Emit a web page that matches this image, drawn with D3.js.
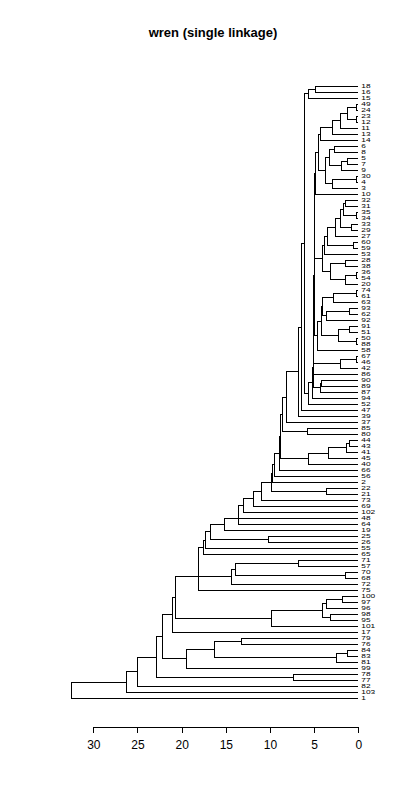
<!doctype html>
<html>
<head>
<meta charset="utf-8">
<script src="https://d3js.org/d3.v7.min.js"></script>
<style>
  body { margin: 0; background: #fff; }
  svg { display: block; }
</style>
</head>
<body>
<script>

// leaf labels, top to bottom, in the order the dendrogram shows them
var leafLabels = ["18","16","15","49","24","23","12","11","13","14",
    "6","8","5","7","9","30","4","3","10","32",
    "31","35","34","33","29","27","60","59","53","28",
    "38","36","54","20","74","61","63","93","62","92",
    "91","51","50","88","58","67","46","42","86","90",
    "89","87","94","52","47","39","37","85","80","44",
    "43","41","45","40","66","56","2","22","21","73",
    "69","102","48","64","19","25","26","55","65","71",
    "57","70","68","72","75","100","97","96","98","95",
    "101","17","79","76","84","83","81","99","78","77",
    "82","103","1"];

// merge height between each pair of neighbouring leaves (height of their lowest common node)
var gapHeights = [4.9, 5.6, 6.1, 0.15, 1.2, 0.15, 2.0, 2.9, 4.3, 4.5,
    2.7, 3.3, 1.2, 1.9, 3.75, 0.15, 2.9, 4.9, 4.95, 1.4,
    1.7, 0.15, 2.0, 0.8, 2.6, 3.45, 0.6, 3.8, 4.0, 1.4,
    3.15, 0.25, 1.45, 5.0, 0.15, 2.8, 4.0, 1.0, 3.65, 4.2,
    1.0, 2.2, 0.15, 4.6, 5.02, 0.15, 2.0, 5.05, 5.1, 4.2,
    4.3, 5.15, 5.6, 6.46, 6.73, 8.08, 8.55, 5.7, 8.76, 1.0,
    1.3, 3.4, 5.6, 8.95, 9.5, 9.66, 9.77, 3.65, 10.97, 11.9,
    13.05, 13.55, 13.6, 15.2, 16.7, 10.2, 17.3, 17.55, 18.05, 6.8,
    13.9, 1.4, 14.4, 18.1, 20.7, 1.8, 3.6, 4.0, 3.1, 9.8,
    21.0, 22.2, 13.2, 16.3, 1.2, 2.5, 19.4, 22.9, 7.3, 25.0,
    26.2, 32.5];

var axisTicks = [0, 5, 10, 15, 20, 25, 30];

var W = 400, H = 800;

var svg = d3.select("body")
    .append("svg")
    .attr("width", W)
    .attr("height", H);

svg.append("rect").attr("width", W).attr("height", H).attr("fill", "#fff");

// scales: height runs right to left, leaves top to bottom
var x = d3.scaleLinear()
    .domain([0, 30])
    .range([358.3, 93.3]);

var y = d3.scalePoint()
    .domain(d3.range(leafLabels.length))
    .range([86.5, 698.3]);

// rebuild the tree: split every range of leaves at its largest gap
function build(a, b) {
    if (a === b) return {name: leafLabels[a], idx: a, h: 0};
    var k = a;
    for (var i = a; i < b; i++) {
        if (gapHeights[i] > gapHeights[k]) k = i;
    }
    return {h: gapHeights[k], children: [build(a, k), build(k + 1, b)]};
}

var root = d3.hierarchy(build(0, leafLabels.length - 1));

// node position: leaf on its row, inner node halfway between its two children
root.eachAfter(function(n) {
    n.px = x(n.data.h);
    n.py = n.children ? (n.children[0].py + n.children[n.children.length - 1].py) / 2 : y(n.data.idx);
});

// title
svg.append("text")
    .attr("x", 213)
    .attr("y", 37)
    .attr("text-anchor", "middle")
    .attr("font-family", "Liberation Sans, Arial, sans-serif")
    .attr("font-weight", "bold")
    .attr("font-size", "13px")
    .text("wren (single linkage)");

// branches
var links = svg.append("g")
    .attr("fill", "none")
    .attr("stroke", "#000")
    .attr("stroke-width", 1)
    .attr("shape-rendering", "crispEdges");

root.descendants().filter(function(n) { return n.children; }).forEach(function(n) {
    n.children.forEach(function(c) {
        links.append("path")
            .attr("d", "M" + c.px + "," + c.py + "H" + n.px + "V" + n.py);
    });
});

// leaf labels: small and stretched sideways so the rows stay apart
svg.append("g")
    .selectAll("text")
    .data(root.leaves())
    .enter().append("text")
    .attr("transform", function(d) {
        return "translate(" + (d.px + 3) + "," + d.py + ") scale(1.6,1)";
    })
    .attr("dy", "0.35em")
    .attr("font-family", "Liberation Sans, Arial, sans-serif")
    .attr("font-size", "5.2px")
    .text(function(d) { return d.data.name; });

// height axis
var axis = svg.append("g")
    .attr("transform", "translate(0,726.7)")
    .call(d3.axisBottom(x)
        .tickValues(axisTicks)
        .tickSize(6)
        .tickSizeOuter(0)
        .tickPadding(8)
        .tickFormat(d3.format("d")));

axis.selectAll("path, line").attr("stroke", "#000").attr("shape-rendering", "crispEdges");
axis.selectAll("text")
    .attr("fill", "#000")
    .attr("font-family", "Liberation Sans, Arial, sans-serif")
    .attr("font-size", "12px");

</script>
</body>
</html>
